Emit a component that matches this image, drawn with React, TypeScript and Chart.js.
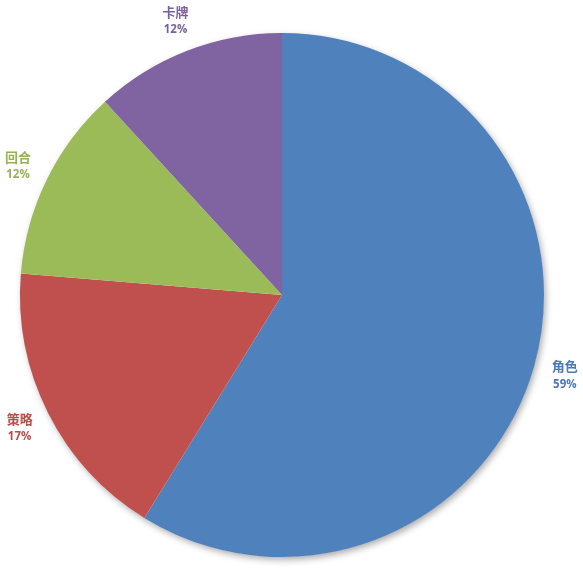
import React, { useEffect, useRef } from "react";
import { Chart, registerables } from "chart.js";

Chart.register(...registerables);

const categories = ["角色", "策略", "回合", "卡牌"];
const values = [58.8, 17.5, 11.9, 11.8];
const percentLabels = ["59%", "17%", "12%", "12%"];
const colors = ["#4F81BD", "#C0504D", "#9BBB59", "#8064A2"];
const textColors = ["#4A7AB5", "#B84C49", "#94B255", "#7A5F9C"];

const shadowPlugin = {
  id: "pieShadow",
  beforeDatasetsDraw(chart: any) {
    const meta = chart.getDatasetMeta(0);
    const arc = meta.data[0];
    if (!arc) return;
    const { x, y, outerRadius } = arc.getProps(["x", "y", "outerRadius"], true);
    const ctx = chart.ctx;
    ctx.save();
    ctx.shadowColor = "rgba(0,0,0,0.35)";
    ctx.shadowBlur = 7;
    ctx.shadowOffsetX = 2;
    ctx.shadowOffsetY = 3;
    ctx.fillStyle = "#ffffff";
    ctx.beginPath();
    ctx.arc(x, y, outerRadius - 0.5, 0, Math.PI * 2);
    ctx.fill();
    ctx.restore();
  },
};

const labelPlugin = {
  id: "outerLabels",
  afterDatasetsDraw(chart: any) {
    const meta = chart.getDatasetMeta(0);
    const ctx = chart.ctx;
    meta.data.forEach((el: any, i: number) => {
      const { x, y, startAngle, endAngle, outerRadius } = el.getProps(
        ["x", "y", "startAngle", "endAngle", "outerRadius"],
        true
      );
      const mid = (startAngle + endAngle) / 2;
      const r = outerRadius + 32;
      const lx = x + Math.cos(mid) * r;
      const ly = y + Math.sin(mid) * r;
      ctx.save();
      ctx.textAlign = "center";
      ctx.textBaseline = "middle";
      ctx.fillStyle = textColors[i];
      ctx.font = "bold 13px 'Noto Sans CJK SC'";
      ctx.fillText(categories[i], lx, ly - 9);
      ctx.font = "bold 11.5px 'Open Sans'";
      ctx.fillText(percentLabels[i], lx, ly + 9);
      ctx.restore();
    });
  },
};

export default function App() {
  const ref = useRef<HTMLCanvasElement | null>(null);
  useEffect(() => {
    if (!ref.current) return;
    const chart = new Chart(ref.current, {
      type: "pie",
      data: {
        labels: categories,
        datasets: [
          {
            data: values,
            backgroundColor: colors,
            borderWidth: 0,
          },
        ],
      },
      options: {
        responsive: false,
        animation: false,
        layout: { padding: { left: 20, right: 39, top: 33, bottom: 14 } },
        plugins: {
          legend: { display: false },
          tooltip: { enabled: false },
        },
      },
      plugins: [shadowPlugin, labelPlugin],
    });
    return () => chart.destroy();
  }, []);
  return (
    <div style={{ position: "absolute", left: 0, top: 0, width: 583, height: 571, background: "#fff" }}>
      <canvas ref={ref} width={583} height={571} style={{ display: "block" }} />
    </div>
  );
}
